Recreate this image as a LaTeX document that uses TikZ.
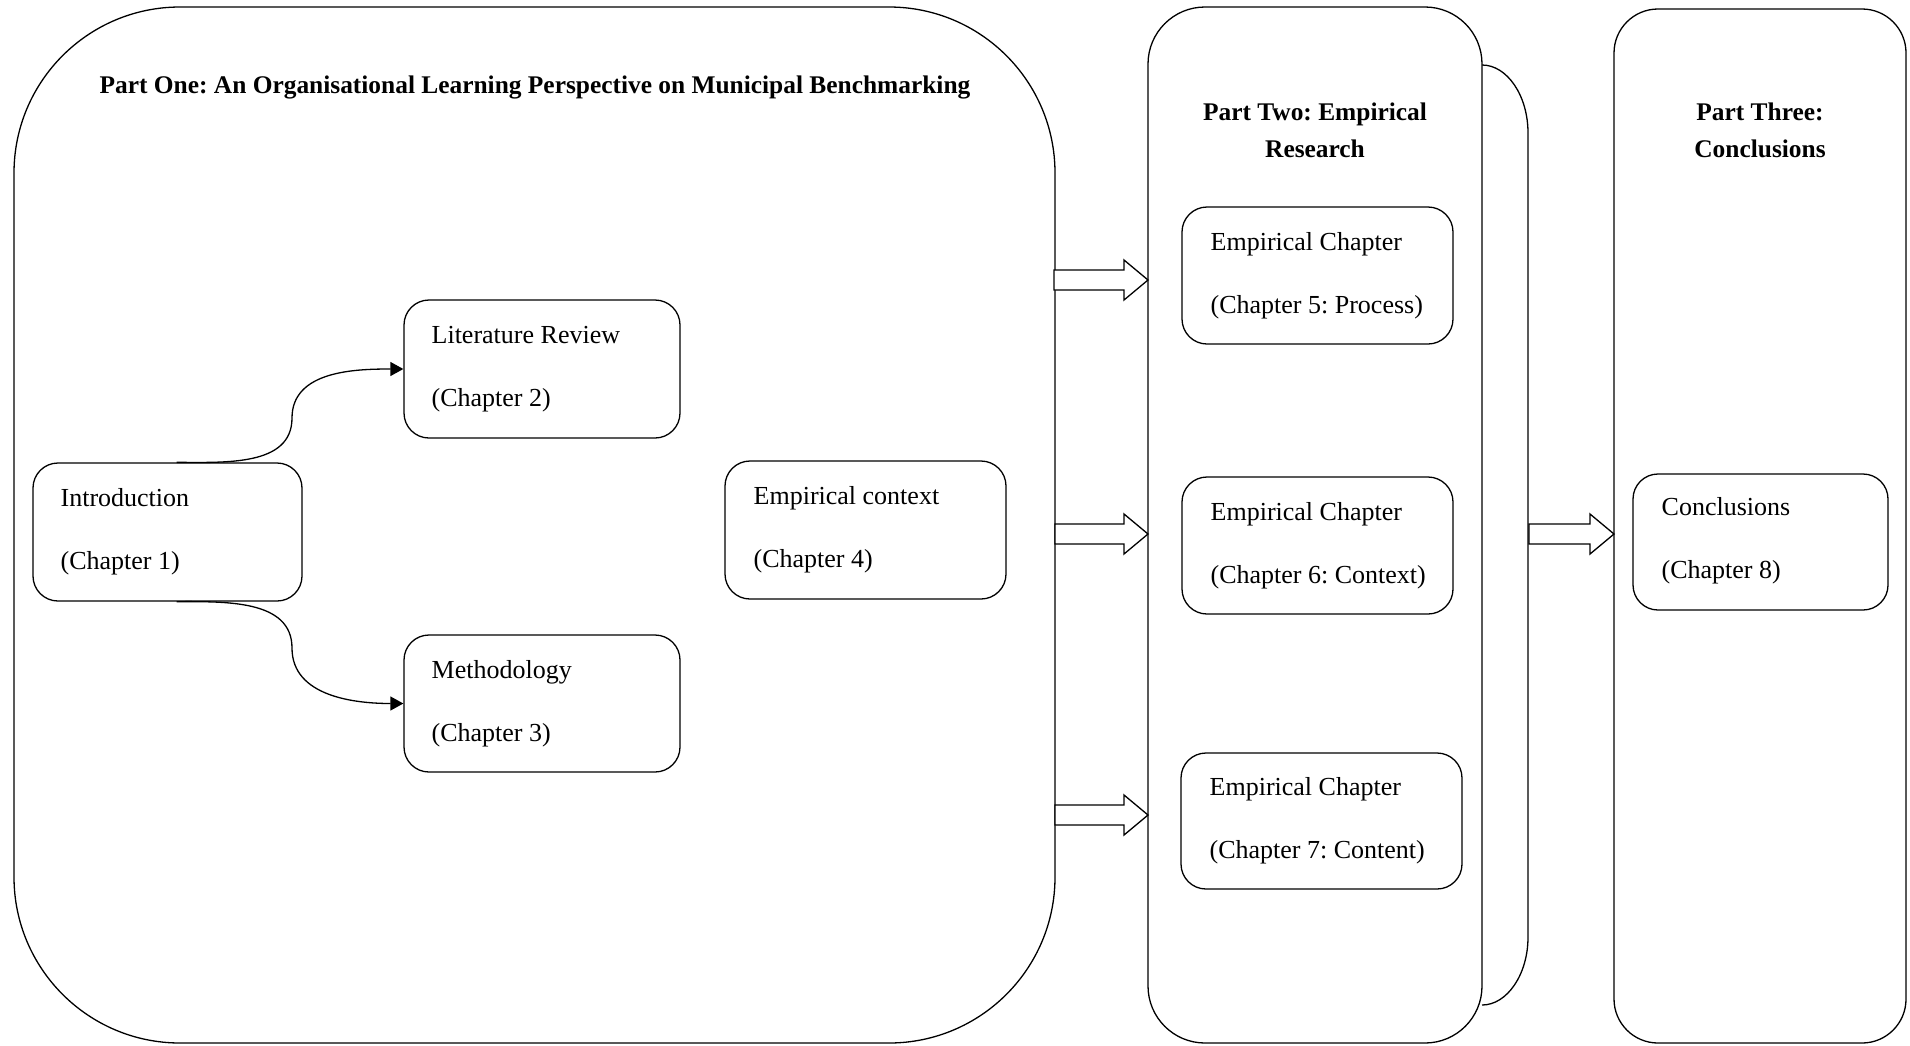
\documentclass[tikz,border=0pt]{standalone}
\usepackage{fontspec}
\setmainfont{Liberation Serif}
\usetikzlibrary{arrows.meta,fit,calc}
\frenchspacing
\newcommand\blkarrow[2]{%
  \draw[blockarr] ($(#1)+(0,-10)$) -- ($(#2)+(-24,-10)$) -- ($(#2)+(-24,-20)$) -- (#2)
    -- ($(#2)+(-24,20)$) -- ($(#2)+(-24,10)$) -- ($(#1)+(0,10)$) -- cycle;}
\begin{document}
\frenchspacing
\begin{tikzpicture}[x=0.5pt,y=-0.5pt,line width=0.65pt,
  box/.style={draw, fill=white, rounded corners=12.5pt, inner sep=0pt},
  part/.style={draw, fill=white, inner sep=0pt},
  txt/.style={anchor=base west, inner sep=0pt, font=\fontsize{13}{15}\selectfont},
  ttl/.style={anchor=base, inner sep=0pt, font=\bfseries\fontsize{12.7}{15}\selectfont},
  curvearr/.style={-{Triangle[length=6.5pt,width=7pt]}},
  blockarr/.style={draw, fill=white, line join=miter}]
\useasboundingbox (0,0) rectangle (1910,1045);

% Part One
\node[part, rounded corners=83pt, fit={(14,7) (1055,1043)}] (p1) {};
\node[ttl] (t1) at (535,93) {Part One: An Organisational Learning Perspective on Municipal Benchmarking};

% Part Two (back sheet, then front)
\draw (1482,65) -- (1482,65) .. controls (1507,65) and (1528,95.4) .. (1528,133)
  -- (1528,937) .. controls (1528,974.6) and (1507,1005) .. (1482,1005);
\node[part, rounded corners=28.5pt, fit={(1148,7) (1482,1043)}] (p2) {};
\node[ttl] (t2a) at (1315,120) {Part Two: Empirical};
\node[ttl] (t2b) at (1315,157) {Research};

% Part Three
\node[part, rounded corners=22pt, fit={(1614,9) (1906,1043)}] (p3) {};
\node[ttl] (t3a) at (1760,120) {Part Three:};
\node[ttl] (t3b) at (1760,157) {Conclusions};

% Part One boxes
\node[box, fit={(33,463) (302,601)}] (intro) {};
\node[txt] (intro1) at (60,506) {Introduction};
\node[txt] (intro2) at (60,569) {(Chapter 1)};

\node[box, fit={(404,300) (680,438)}] (lit) {};
\node[txt] (lit1) at (431,343) {Literature Review};
\node[txt] (lit2) at (431,406) {(Chapter 2)};

\node[box, fit={(404,635) (680,772)}] (meth) {};
\node[txt] (meth1) at (431,678) {Methodology};
\node[txt] (meth2) at (431,741) {(Chapter 3)};

\node[box, fit={(725,461) (1006,599)}] (ctx) {};
\node[txt] (ctx1) at (753,504) {Empirical context};
\node[txt] (ctx2) at (753,567) {(Chapter 4)};

% Part Two boxes
\node[box, fit={(1182,207) (1453,344)}] (e5) {};
\node[txt] (e5a) at (1210,250) {Empirical Chapter};
\node[txt] (e5b) at (1210,313) {(Chapter 5: Process)};

\node[box, fit={(1182,477) (1453,614)}] (e6) {};
\node[txt] (e6a) at (1210,520) {Empirical Chapter};
\node[txt] (e6b) at (1210,583) {(Chapter 6: Context)};

\node[box, fit={(1181,753) (1462,889)}] (e7) {};
\node[txt] (e7a) at (1209,795) {Empirical Chapter};
\node[txt] (e7b) at (1209,858) {(Chapter 7: Content)};

% Part Three box
\node[box, fit={(1633,474) (1888,610)}] (concl) {};
\node[txt] (concl1) at (1661,515) {Conclusions};
\node[txt] (concl2) at (1661,578) {(Chapter 8)};

% curved connectors
\draw[curvearr] ($(intro.north)+(9,0)$) to[out=0,in=-90] (292,418) to[out=90,in=180] (lit.west);
\draw[curvearr] ($(intro.south)+(9,0)$) to[out=0,in=90] (292,648) to[out=-90,in=180] (meth.west);

% block arrows
\coordinate (a1s) at (1054,280); \coordinate (a1e) at (1148,280);
\coordinate (a2s) at (1055,534); \coordinate (a2e) at (1148,534);
\coordinate (a3s) at (1055,815); \coordinate (a3e) at (1148,815);
\coordinate (a4s) at (1529,534); \coordinate (a4e) at (1614,534);
\blkarrow{a1s}{a1e}
\blkarrow{a2s}{a2e}
\blkarrow{a3s}{a3e}
\blkarrow{a4s}{a4e}
\end{tikzpicture}
\end{document}
